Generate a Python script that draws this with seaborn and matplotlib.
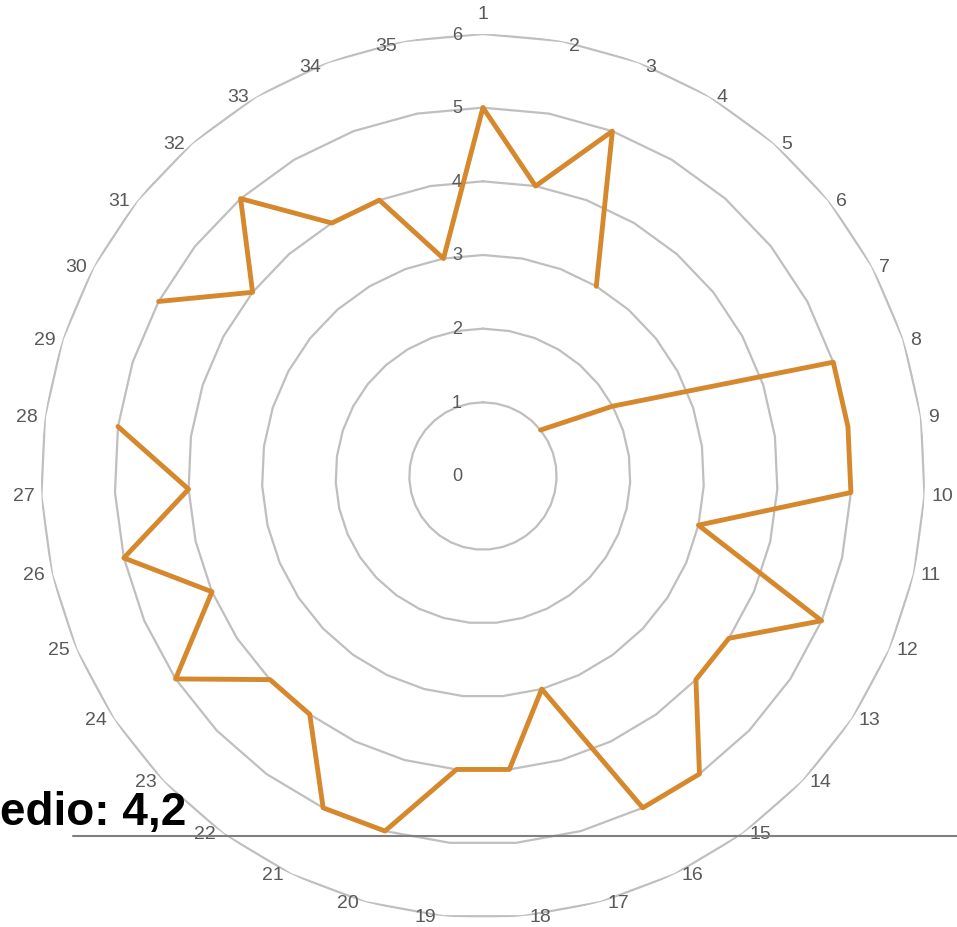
import numpy as np
import pandas as pd
import matplotlib
matplotlib.use("Agg")
import matplotlib.pyplot as plt
import matplotlib.transforms as mtrans
import seaborn as sns

categories = [str(i) for i in range(1, 36)]
values = [5, 4, 5, 3, np.nan, 1, 2, 5, 5, 5, 3, 5, 4, 4, 5, 5, 3, 4, 4, 5,
          5, 4, 4, 5, 4, 5, 4, 5, np.nan, 5, 4, 5, 4, 4, 3]
radial_ticks = [0, 1, 2, 3, 4, 5, 6]
note_text = "edio: 4,2"

sns.set_style("white")
plt.rcParams["font.family"] = ["Liberation Sans", "DejaVu Sans"]

n = len(categories)
angles = np.arange(n) * 2 * np.pi / n

# closed series, split into segments at blanks
th = np.append(angles, angles[0])
rv = np.append(values, values[0])
seg = np.cumsum(np.isnan(rv))
df = pd.DataFrame({"theta": th, "r": rv, "seg": seg}).dropna()

fig = plt.figure(figsize=(9.57, 9.28), dpi=100)
ax = fig.add_axes([0.0428, 0.0097, 0.9237, 0.9526], projection="polar")
ax.set_theta_zero_location("N")
ax.set_theta_direction(-1)
ax.set_ylim(0, 6)
ax.grid(False)
ax.spines["polar"].set_visible(False)
ax.set_xticks([])
ax.set_yticks([])

grid_col = "#BFBFBF"
poly_th = np.append(angles, angles[0])
for r in radial_ticks[1:]:
    ax.plot(poly_th, np.full(len(poly_th), r), color=grid_col, lw=1.6, zorder=1)

sns.lineplot(data=df, x="theta", y="r", units="seg", estimator=None, sort=False,
             color="#D6882D", lw=3.5, ax=ax, zorder=3)
ax.set_xlabel("")
ax.set_ylabel("")

lab_col = "#595959"
for a, c in zip(angles, categories):
    s = np.sin(a)
    cth = np.cos(a)
    if abs(s) < 1e-6:
        ax.annotate(c, xy=(a, 6), xytext=(0, 12), textcoords="offset pixels",
                    ha="center", va="bottom", fontsize=14, color=lab_col,
                    annotation_clip=False)
    else:
        dy = -4 if cth > 0.9 else 0
        dx = 7 if s > 0 else -7
        ax.annotate(c, xy=(a, 6), xytext=(dx, dy), textcoords="offset pixels",
                    ha="left" if s > 0 else "right", va="center", fontsize=14,
                    color=lab_col, annotation_clip=False)

off = mtrans.offset_copy(ax.transData, fig=fig, x=-26, y=0, units="dots")
for r in radial_ticks:
    ax.text(0, r, str(r), transform=off, ha="center", va="center",
            fontsize=13, color=lab_col)

fig.text(0.0, 1 - 825 / 928, note_text, ha="left", va="baseline",
         fontsize=33, fontweight="bold", color="black")
fig.add_artist(plt.Line2D([73 / 957, 1.0], [1 - 837 / 928, 1 - 837 / 928],
                          transform=fig.transFigure, color="#7F7F7F", lw=1.5))

fig.savefig("out.png", dpi=100)
